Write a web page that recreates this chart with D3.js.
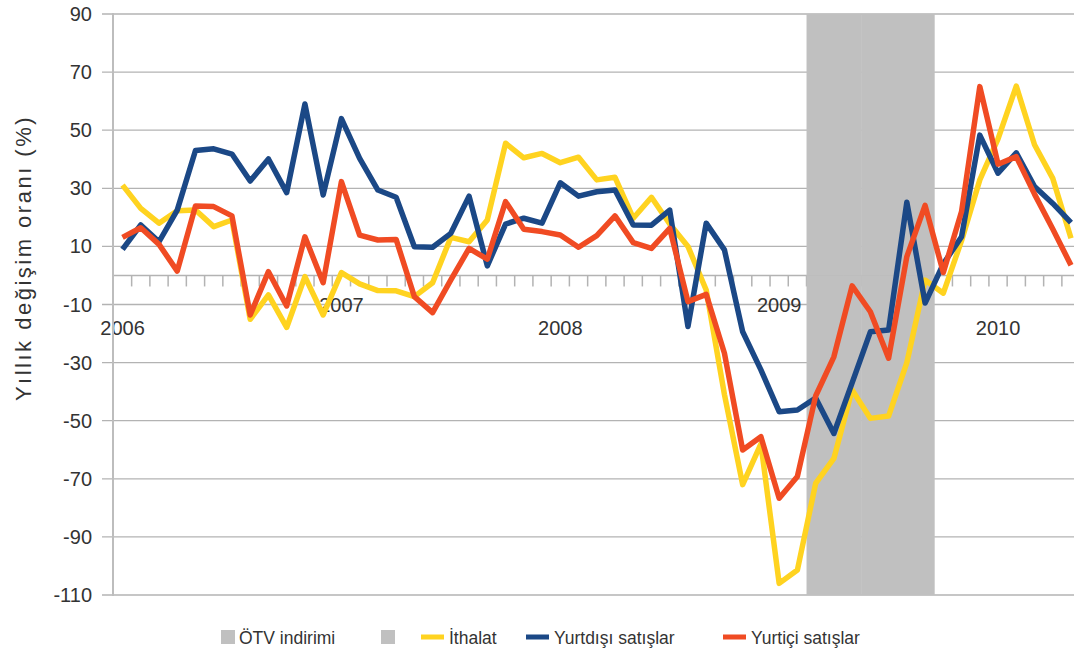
<!DOCTYPE html>
<html>
<head>
<meta charset="utf-8">
<script src="https://cdn.jsdelivr.net/npm/d3@7"></script>
<style>
  body { margin: 0; background: #fff; }
  text { font-family: "Liberation Sans", Arial, sans-serif; fill: #333; }
</style>
</head>
<body>
<script>
// months, Jan 2006 .. May 2010
var months = ["2006-01","2006-02","2006-03","2006-04","2006-05","2006-06","2006-07","2006-08","2006-09","2006-10","2006-11","2006-12",
  "2007-01","2007-02","2007-03","2007-04","2007-05","2007-06","2007-07","2007-08","2007-09","2007-10","2007-11","2007-12",
  "2008-01","2008-02","2008-03","2008-04","2008-05","2008-06","2008-07","2008-08","2008-09","2008-10","2008-11","2008-12",
  "2009-01","2009-02","2009-03","2009-04","2009-05","2009-06","2009-07","2009-08","2009-09","2009-10","2009-11","2009-12",
  "2010-01","2010-02","2010-03","2010-04","2010-05"];

var ithalat = [31.1, 23.1, 18, 22.3, 22.5, 16.8, 19.1, -15.1, -6.7, -17.9, -0.4, -13.6,
  1, -2.9, -5.2, -5.3, -7.3, -2.5, 13.1, 11.6, 19.1, 45.5, 40.5, 42,
  38.8, 40.7, 32.9, 33.8, 19.7, 26.9, 17.7, 10, -5, -41, -72, -58,
  -106, -101.4, -71.6, -63, -39.4, -49.2, -48.4, -30, -1.6, -6.1, 12, 32.9,
  47, 65.2, 45, 33.4, 12.8];

var yurtdisi = [9, 17.4, 11.6, 22.5, 43, 43.6, 41.8, 32.5, 40.1, 28.5, 59, 27.7,
  54, 40.3, 29.4, 26.9, 9.9, 9.7, 14.5, 27.3, 3.3, 17.7, 19.7, 18,
  31.9, 27.3, 28.8, 29.4, 17.4, 17.3, 22.5, -17.6, 18, 8.8, -19.4, -32.5,
  -46.9, -46.3, -42.2, -54.4, -37, -19.4, -18.8, 25.2, -9.5, 4, 13.3, 48.3,
  35.2, 42.2, 30.6, 24.8, 18.2];

var yurtici = [13.1, 16.4, 10.7, 1.5, 23.9, 23.7, 20.5, -13.6, 1.3, -10.5, 13.3, -2.5,
  32.3, 13.9, 12.2, 12.4, -7.3, -12.8, -1.5, 9.3, 5.6, 25.4, 15.9, 15.1,
  13.9, 9.7, 13.7, 20.5, 11.3, 9.3, 16.2, -9, -6.5, -26.8, -60.1, -55.5,
  -76.7, -69.2, -41.5, -28, -3.6, -12.5, -28.5, 6.5, 24.1, 1, 22, 65,
  38.3, 40.9, 28, 16, 3.5];

// ÖTV indirimi period (two stacked grey bars)
var otvMonths = ["2009-03","2009-04","2009-05","2009-06","2009-07","2009-08","2009-09"];
var otvUpper = [90, 90, 90, 90, 90, 90, 90];
var otvLower = [-110, -110, -110, -110, -110, -110, -110];

var yTicks = [90, 70, 50, 30, 10, -10, -30, -50, -70, -90, -110];
var yearLabels = ["2006", "2007", "2008", "2009", "2010"];
var yearMonths = ["2006-01", "2007-01", "2008-01", "2009-01", "2010-01"];

var seriesNames = ["İthalat", "Yurtdışı satışlar", "Yurtiçi satışlar"];
var seriesColors = ["#ffd320", "#1b4886", "#f04b23"];

var width = 1074, height = 655;
var gridColor = "#b3b3b3";

var svg = d3.select("body").append("svg")
  .attr("width", width)
  .attr("height", height);

var x = d3.scaleBand()
  .domain(months)
  .range([113.4, 113.4 + 18.24 * months.length])
  .paddingInner(0).paddingOuter(0);

var y = d3.scaleLinear()
  .domain([-110, 90])
  .range([595, 14]);

var cx = function(m) { return x(m) + x.bandwidth() / 2; };

// gridlines + y labels
svg.append("g").attr("class", "grid")
  .selectAll("line")
  .data(yTicks)
  .enter().append("line")
    .attr("x1", 102).attr("x2", width + 10)
    .attr("y1", function(d) { return y(d); })
    .attr("y2", function(d) { return y(d); })
    .attr("stroke", gridColor)
    .attr("stroke-width", 1.3);

svg.append("g").attr("class", "ylabels")
  .selectAll("text")
  .data(yTicks)
  .enter().append("text")
    .attr("x", 92)
    .attr("y", function(d) { return y(d); })
    .attr("dy", "0.35em")
    .attr("text-anchor", "end")
    .style("font-size", "20px")
    .text(function(d) { return d; });

// x axis at zero with a tick at every month boundary
svg.append("line")
  .attr("x1", x.range()[0]).attr("x2", width + 10)
  .attr("y1", y(0)).attr("y2", y(0))
  .attr("stroke", gridColor).attr("stroke-width", 1.5);

svg.append("g").attr("class", "xticks")
  .selectAll("line")
  .data(months.slice(1))
  .enter().append("line")
    .attr("x1", function(d) { return x(d); })
    .attr("x2", function(d) { return x(d); })
    .attr("y1", y(0)).attr("y2", y(0) + 11)
    .attr("stroke", gridColor).attr("stroke-width", 1.5);

// year labels, staggered
svg.append("g").attr("class", "years")
  .selectAll("text")
  .data(yearLabels)
  .enter().append("text")
    .attr("x", function(d, i) { return cx(yearMonths[i]); })
    .attr("y", function(d, i) { return i % 2 == 0 ? y(0) + 60 : y(0) + 36.5; })
    .attr("text-anchor", "middle")
    .style("font-size", "20px")
    .text(function(d) { return d; });

// ÖTV band
var band = svg.append("g").attr("class", "otv");
band.selectAll("rect.up")
  .data(otvMonths)
  .enter().append("rect")
    .attr("class", "up")
    .attr("x", function(d) { return x(d); })
    .attr("width", x.bandwidth() + 0.5)
    .attr("y", function(d, i) { return y(otvUpper[i]); })
    .attr("height", function(d, i) { return y(0) - y(otvUpper[i]); })
    .attr("fill", "#c0c0c0");
band.selectAll("rect.down")
  .data(otvMonths)
  .enter().append("rect")
    .attr("class", "down")
    .attr("x", function(d) { return x(d); })
    .attr("width", x.bandwidth() + 0.5)
    .attr("y", y(0))
    .attr("height", function(d, i) { return y(otvLower[i]) - y(0); })
    .attr("fill", "#c0c0c0");

// y axis line
svg.append("line")
  .attr("x1", 113).attr("x2", 113)
  .attr("y1", y(90) - 1).attr("y2", y(-110) + 1)
  .attr("stroke", "#bdbdbd").attr("stroke-width", 2);

// series lines
var line = d3.line()
  .x(function(d) { return cx(d[0]); })
  .y(function(d) { return y(d[1]); });

[ithalat, yurtdisi, yurtici].forEach(function(vals, k) {
  svg.append("path")
    .datum(months.map(function(m, i) { return [m, vals[i]]; }))
    .attr("fill", "none")
    .attr("stroke", seriesColors[k])
    .attr("stroke-width", 5.5)
    .attr("stroke-linejoin", "round")
    .attr("d", line);
});

// y title
svg.append("text")
  .attr("transform", "translate(31," + 258 + ")rotate(-90)")
  .attr("text-anchor", "middle")
  .style("font-size", "22px")
  .style("letter-spacing", "2.5px")
  .text("Yıllık değişim oranı (%)");

// legend
var legend = svg.append("g").attr("class", "legend");
var ly = 637;
legend.append("rect").attr("x", 221).attr("y", ly - 7).attr("width", 14).attr("height", 14).attr("fill", "#c0c0c0");
legend.append("text").attr("x", 239).attr("y", ly + 6.5).style("font-size", "17.5px").text("ÖTV indirimi");
legend.append("rect").attr("x", 381).attr("y", ly - 7).attr("width", 14).attr("height", 14).attr("fill", "#c0c0c0");

var lineKeys = [421, 526, 723];
seriesNames.forEach(function(name, k) {
  legend.append("rect")
    .attr("x", lineKeys[k]).attr("y", ly - 2.5)
    .attr("width", 23).attr("height", 5)
    .attr("fill", seriesColors[k]);
  legend.append("text")
    .attr("x", lineKeys[k] + 28).attr("y", ly + 6.5)
    .style("font-size", "17.5px")
    .text(name);
});
</script>
</body>
</html>
